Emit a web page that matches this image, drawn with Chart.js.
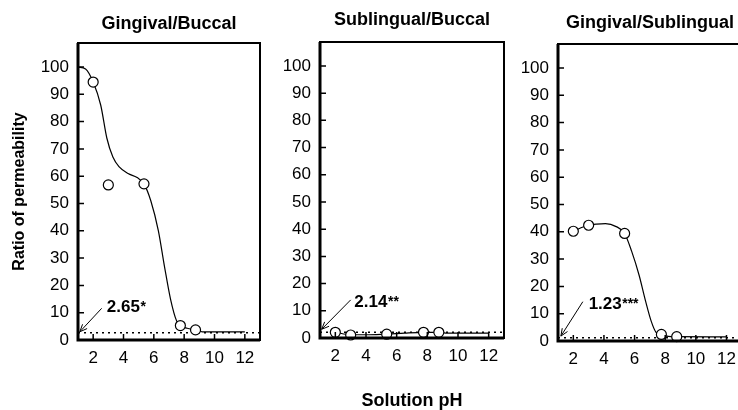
<!DOCTYPE html>
<html>
<head>
<meta charset="utf-8">
<script src="https://cdn.jsdelivr.net/npm/chart.js@4.4.1/dist/chart.umd.min.js"></script>
<style>
  html, body { margin: 0; padding: 0; background: #fff; overflow: hidden; }
  body { width: 738px; height: 410px; position: relative; }
  canvas { position: absolute; top: 0; }
</style>
</head>
<body>
<canvas id="c1" width="268" height="410" style="left:0px"></canvas>
<canvas id="c2" width="244" height="410" style="left:268px"></canvas>
<canvas id="c3" width="236" height="410" style="left:512px"></canvas>
<script>
const FONT = "'Liberation Sans', Arial, Helvetica, sans-serif"

// measured pH of the open circles
const phPoints = [2, 3, 5.35, 7.75, 8.75]

// ratio of permeability at each pH
const gingivalBuccal = [94.5, 56.8, 57.2, 5.3, 3.7]
const sublingualBuccal = [2.1, 1.1, 1.4, 2.1, 2.1]
const gingivalSublingual = [40.2, 42.4, 39.4, 2.4, 1.6]

// fitted curves
const gbCurveX = [1, 1.5, 2, 2.5, 2.9, 3.3, 3.7, 4.3, 4.9, 5.35, 5.8, 6.3, 6.7, 7.1, 7.5, 7.75, 8.2, 8.75, 9.2, 12]
const gbCurveY = [100, 99.3, 94.5, 86, 74, 67, 63.5, 61, 59.5, 57.2, 51, 40, 27, 15, 7, 5.3, 4.3, 3.7, 3, 3]
const sbCurveX = [2, 3, 4.2, 5.35, 6.5, 7.75, 8.75, 9.2, 12]
const sbCurveY = [2.1, 1.2, 1.2, 1.4, 1.8, 2.1, 2.1, 1.8, 1.8]
const gsCurveX = [2, 2.5, 3, 3.5, 4.1, 4.8, 5.35, 5.8, 6.3, 6.7, 7.1, 7.4, 7.75, 8.2, 8.75, 12]
const gsCurveY = [40.2, 41.5, 42.4, 42.8, 43, 41.9, 39.4, 33, 24, 15, 7, 3.2, 2.4, 1.7, 1.6, 1.5]

// reference ratios (dotted lines) and significance marks
const refValues = [2.65, 2.14, 1.23]
const refStars = ['*', '**', '***']
const titles = ['Gingival/Buccal', 'Sublingual/Buccal', 'Gingival/Sublingual']

const yTicks = [0, 10, 20, 30, 40, 50, 60, 70, 80, 90, 100]
const xTicks = [2, 4, 6, 8, 10, 12]

const toXY = (xs, ys) => xs.map((x, i) => ({ x: x, y: ys[i] }))

// frame, inward ticks, arrow + label
const decorPlugin = {
    id: 'decor',
    afterDatasetsDraw(chart, args, opts) {
        const { ctx, chartArea: a, scales: { x, y } } = chart
        ctx.save()
        ctx.strokeStyle = '#000'
        ctx.lineWidth = 1.5
        ctx.beginPath()
        yTicks.forEach(v => {
            const py = y.getPixelForValue(v)
            ctx.moveTo(a.left, py)
            ctx.lineTo(a.left + 6, py)
        })
        xTicks.forEach(v => {
            const px = x.getPixelForValue(v)
            ctx.moveTo(px, a.bottom)
            ctx.lineTo(px, a.bottom - 6)
        })
        ctx.stroke()

        ctx.lineWidth = 2
        ctx.strokeRect(a.left, a.top, a.right - a.left, a.bottom - a.top)
        ctx.lineWidth = 3
        ctx.beginPath()
        ctx.moveTo(a.left, a.top)
        ctx.lineTo(a.left, a.bottom)
        ctx.lineTo(a.right, a.bottom)
        ctx.stroke()

        // arrow
        const fx = x.getPixelForValue(opts.fromX), fy = y.getPixelForValue(opts.fromY)
        const tx = x.getPixelForValue(opts.tipX), ty = y.getPixelForValue(opts.tipY)
        const ang = Math.atan2(ty - fy, tx - fx)
        ctx.lineWidth = 1
        ctx.beginPath()
        ctx.moveTo(fx, fy)
        ctx.lineTo(tx, ty)
        ctx.moveTo(tx - 8 * Math.cos(ang - 0.4), ty - 8 * Math.sin(ang - 0.4))
        ctx.lineTo(tx, ty)
        ctx.lineTo(tx - 8 * Math.cos(ang + 0.4), ty - 8 * Math.sin(ang + 0.4))
        ctx.stroke()

        // label
        const lx = x.getPixelForValue(opts.textX), ly = y.getPixelForValue(opts.textY)
        ctx.fillStyle = '#000'
        ctx.textBaseline = 'middle'
        ctx.textAlign = 'left'
        ctx.font = 'bold 17px ' + FONT
        ctx.fillText(opts.label, lx, ly)
        const w = ctx.measureText(opts.label).width
        ctx.font = 'bold 14px ' + FONT
        ctx.textBaseline = 'top'
        ctx.fillText(opts.stars, lx + w + 0.5, ly - 7)
        ctx.restore()
    }
}

const makePanel = (id, i, pts, cx, cy, lay, note, extra) => {
    return new Chart(id, {
        type: 'scatter',
        data: {
            datasets: [{
                data: toXY(phPoints, pts),
                pointRadius: 5,
                pointBackgroundColor: '#fff',
                pointBorderColor: '#000',
                pointBorderWidth: 1.2,
                showLine: false,
                clip: false,
                order: 0
            }, {
                data: toXY(cx, cy),
                showLine: true,
                cubicInterpolationMode: 'monotone',
                borderColor: '#000',
                borderWidth: 1.2,
                pointRadius: 0,
                order: 1
            }, {
                data: [{ x: 1, y: refValues[i] }, { x: 13, y: refValues[i] }],
                showLine: true,
                borderColor: '#000',
                borderWidth: 1.5,
                borderDash: [2, 4],
                pointRadius: 0,
                order: 2
            }]
        },
        options: {
            responsive: false,
            animation: false,
            events: [],
            layout: { padding: { left: 0, right: lay.right, top: 0, bottom: 0 } },
            plugins: {
                legend: { display: false },
                tooltip: { enabled: false },
                title: {
                    display: true,
                    text: titles[i],
                    fullSize: false,
                    color: '#000',
                    font: { family: FONT, size: 18, weight: 'bold', lineHeight: 1.2 },
                    padding: { top: lay.titleTop, bottom: lay.top - lay.titleTop - 21.6 }
                },
                decor: Object.assign({ label: refValues[i].toFixed(2), stars: refStars[i] }, note)
            },
            scales: {
                x: {
                    type: 'linear',
                    min: 1,
                    max: 13,
                    afterBuildTicks: s => { s.ticks = xTicks.map(v => ({ value: v })) },
                    afterFit: s => { s.height = 410 - lay.bottom },
                    grid: { display: false, drawTicks: false },
                    border: { display: false },
                    ticks: { color: '#000', padding: 8, font: { family: FONT, size: 17 } },
                    title: extra.xTitle ? {
                        display: true,
                        text: 'Solution pH',
                        color: '#000',
                        font: { family: FONT, size: 18, weight: 'bold', lineHeight: 1 },
                        padding: { top: 0, bottom: 0 }
                    } : { display: false }
                },
                y: {
                    min: 0,
                    max: 108.8,
                    afterBuildTicks: s => { s.ticks = yTicks.map(v => ({ value: v })) },
                    afterFit: s => { s.width = lay.left },
                    grid: { display: false, drawTicks: false },
                    border: { display: false },
                    ticks: { color: '#000', padding: 9, font: { family: FONT, size: 17 } },
                    title: extra.yTitle ? {
                        display: true,
                        text: 'Ratio of permeability',
                        color: '#000',
                        font: { family: FONT, size: 16, weight: 'bold', lineHeight: 1.2 },
                        padding: { top: 10, bottom: 0 }
                    } : { display: false }
                }
            }
        },
        plugins: [decorPlugin]
    })
}

makePanel('c1', 0, gingivalBuccal, gbCurveX, gbCurveY,
    { left: 78, right: 8, top: 43, titleTop: 12.8, bottom: 340 },
    { textX: 2.9, textY: 11.9, fromX: 2.56, fromY: 11.6, tipX: 1.12, tipY: 3.0 },
    { yTitle: true })

makePanel('c2', 1, sublingualBuccal, sbCurveX, sbCurveY,
    { left: 52, right: 8, top: 42, titleTop: 9.5, bottom: 338 },
    { textX: 3.24, textY: 13.3, fromX: 3.0, fromY: 14.0, tipX: 1.11, tipY: 3.2 },
    { xTitle: true })

makePanel('c3', 2, gingivalSublingual, gsCurveX, gsCurveY,
    { left: 46, right: 3, top: 44, titleTop: 12, bottom: 341 },
    { textX: 3.0, textY: 13.5, fromX: 2.62, fromY: 14.4, tipX: 1.19, tipY: 1.8 },
    {})
</script>
</body>
</html>
